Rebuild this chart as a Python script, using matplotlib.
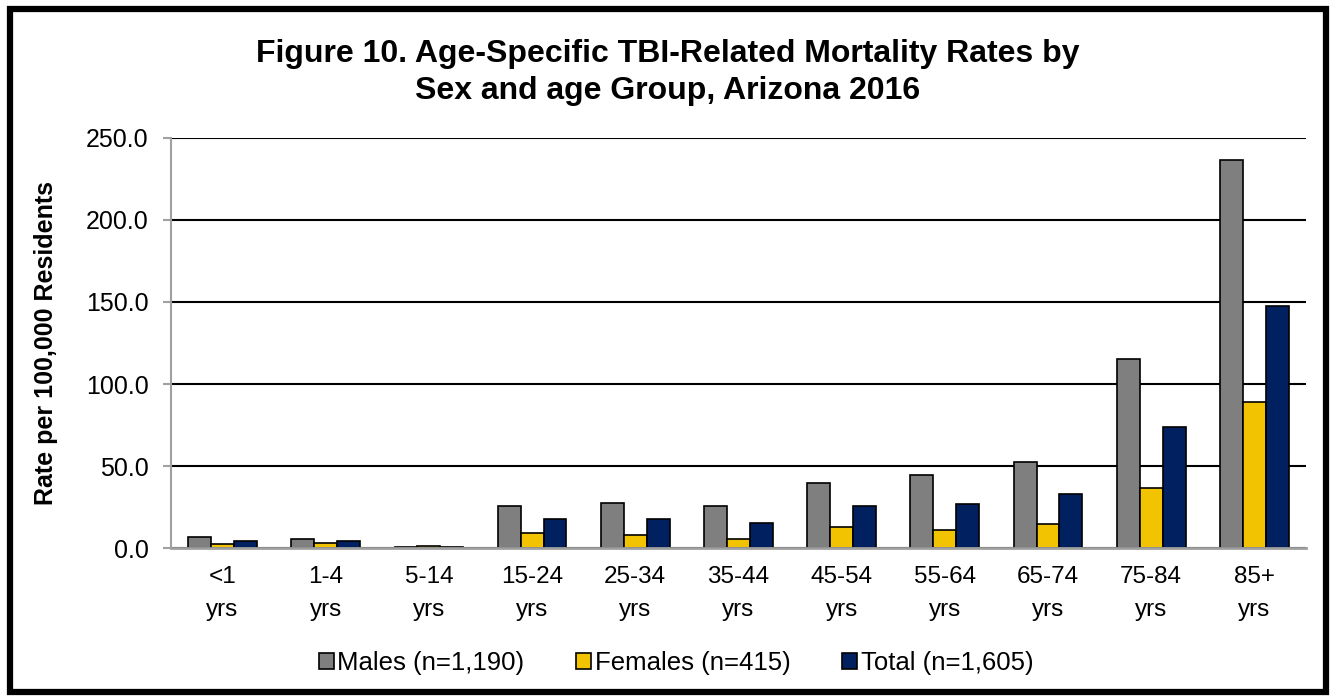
import matplotlib
matplotlib.use("Agg")
import matplotlib.pyplot as plt
from matplotlib.patches import Rectangle, Patch
import numpy as np

plt.rcParams['font.family'] = ['Liberation Sans', 'DejaVu Sans']

categories = ["<1\nyrs", "1-4\nyrs", "5-14\nyrs", "15-24\nyrs", "25-34\nyrs", "35-44\nyrs",
              "45-54\nyrs", "55-64\nyrs", "65-74\nyrs", "75-84\nyrs", "85+\nyrs"]
males = [6.5, 5.4, 0.8, 25.4, 27.3, 25.8, 39.5, 44.6, 52.7, 115.3, 236.5]
females = [2.4, 3.4, 1.3, 9.3, 7.9, 5.6, 12.8, 10.8, 14.7, 36.7, 88.9]
total = [4.5, 4.5, 0.8, 17.6, 17.8, 15.5, 25.9, 26.7, 32.8, 73.7, 147.5]
series_names = ["Males (n=1,190)", "Females (n=415)", "Total (n=1,605)"]
colors = ["#7F7F7F", "#F2C300", "#002060"]
yticks = [0, 50, 100, 150, 200, 250]

fig = plt.figure(figsize=(13.36, 7.0), dpi=100)
# figure border
fig.patches.append(Rectangle((0.0075, 0.012), 0.985, 0.975, transform=fig.transFigure,
                             fill=False, edgecolor='black', linewidth=4.5, zorder=10))

ax = fig.add_axes([0.128, 0.217, 0.8495, 0.586])
x = np.arange(len(categories))
w = 0.222
for i, (vals, c, name) in enumerate(zip([males, females, total], colors, series_names)):
    ax.bar(x + (i - 1) * w, vals, width=w, color=c, edgecolor='black', linewidth=1.2,
           label=name, zorder=3)

ax.set_xlim(-0.5, 10.5)
ax.set_ylim(0, 250)
ax.set_yticks(yticks)
ax.set_yticklabels([f"{v:.1f}" for v in yticks], fontsize=18)
ax.set_xticks(x)
ax.set_xticklabels(categories, fontsize=17.5, linespacing=1.65)
ax.tick_params(axis='x', length=0, pad=13)
ax.tick_params(axis='y', length=6, color='#A0A0A0', width=1.5, pad=10)
ax.yaxis.grid(True, color='black', linewidth=1.5, zorder=0)
ax.set_axisbelow(True)
for s in ['top', 'right']:
    ax.spines[s].set_visible(False)
ax.spines['left'].set_color('#A0A0A0')
ax.spines['left'].set_linewidth(1.5)
ax.spines['bottom'].set_color('#A0A0A0')
ax.spines['bottom'].set_linewidth(2)
ax.spines['bottom'].set_zorder(4)

ax.set_ylabel("Rate per 100,000 Residents", fontsize=18, fontweight='bold', labelpad=20)

fig.text(0.5, 0.897, "Figure 10. Age-Specific TBI-Related Mortality Rates by\nSex and age Group, Arizona 2016",
         ha='center', va='center', fontsize=23, fontweight='bold', linespacing=1.3)

handles = [Patch(facecolor=c, edgecolor='black', linewidth=1.2) for c in colors]
fig.legend(handles, series_names, loc='center', bbox_to_anchor=(0.506, 0.053), ncol=3,
           frameon=False, fontsize=18.5, handlelength=0.58, handleheight=0.58,
           handletextpad=0.15, columnspacing=2.0)

fig.savefig("out.png", dpi=100)
